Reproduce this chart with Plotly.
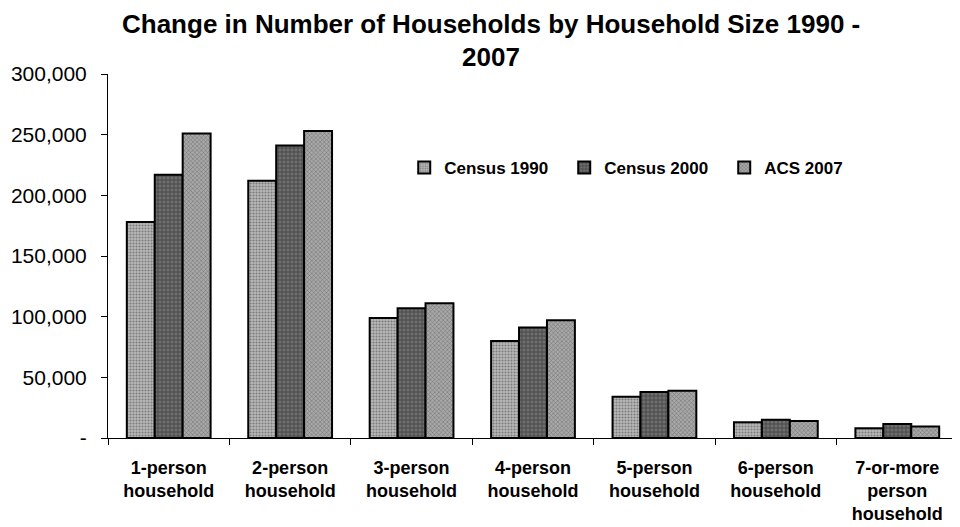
import plotly.graph_objects as go

categories = ["1-person<br>household", "2-person<br>household", "3-person<br>household",
              "4-person<br>household", "5-person<br>household", "6-person<br>household",
              "7-or-more<br>person<br>household"]
census_1990 = [178000, 212000, 99000, 80000, 34000, 13000, 8000]
census_2000 = [217000, 241000, 107000, 91000, 38000, 15000, 11500]
acs_2007 = [251000, 253000, 111000, 97000, 39000, 14000, 9500]
series_names = ["Census 1990", "Census 2000", "ACS 2007"]
tick_vals = [0, 50000, 100000, 150000, 200000, 250000, 300000]
tick_text = ["-", "50,000", "100,000", "150,000", "200,000", "250,000", "300,000"]
title_lines = ["Change in Number of Households by Household Size 1990 -", "2007"]

styles = [
    dict(bg="#b8b8b8", fg="#404040", shape=".", size=3, sol=0.4),
    dict(bg="#6e6e6e", fg="#111111", shape="+", size=4, sol=0.35),
    dict(bg="#a8a8a8", fg="#303030", shape="x", size=3, sol=0.3),
]

fig = go.Figure()
for name, vals, st in zip(series_names, [census_1990, census_2000, acs_2007], styles):
    fig.add_trace(go.Bar(
        x=categories, y=vals, name=name,
        marker=dict(color=st["bg"], line=dict(color="black", width=2),
                    pattern=dict(shape=st["shape"], fgcolor=st["fg"], bgcolor=st["bg"],
                                 size=st["size"], solidity=st["sol"], fillmode="overlay")),
    ))

# The page places the figure 8px from the top-left corner, so the figure is 952x519.
W, H = 952, 519
L, T, R, B = 100, 66, 2, 89
PW, PH = W - L - R, H - T - B

font = "Liberation Sans, Arial, sans-serif"
fig.update_layout(
    width=W, height=H,
    paper_bgcolor="white", plot_bgcolor="white",
    margin=dict(l=L, r=R, t=T, b=B, autoexpand=False),
    barmode="group", bargap=0.31, bargroupgap=0,
    font=dict(family=font, size=18, color="black"),
    legend=dict(orientation="h", x=0.3485, y=0.742, xanchor="left", yanchor="middle",
                font=dict(size=17, family=font, color="black", weight="bold"),
                bgcolor="rgba(0,0,0,0)", itemwidth=30, entrywidth=115, entrywidthmode="pixels"),
    showlegend=True,
)
for txt, ypx in zip(title_lines, [16, 49]):
    fig.add_annotation(text="<b>%s</b>" % txt, xref="paper", yref="paper",
                       x=(483 - L) / PW, y=(T + PH - ypx) / PH, xanchor="center", yanchor="middle",
                       showarrow=False, font=dict(size=26, family=font, color="black"))

fig.update_yaxes(range=[0, 300000], tickvals=tick_vals, ticktext=tick_text,
                 showgrid=False, showline=True, linecolor="black", linewidth=1,
                 ticks="outside", ticklen=6, tickcolor="black", automargin=False,
                 ticklabelstandoff=10,
                 tickfont=dict(size=21, family=font), zeroline=False)
fig.update_xaxes(showgrid=False, showline=True, linecolor="black", linewidth=1,
                 ticks="outside", tickson="boundaries", ticklen=6, tickcolor="black",
                 automargin=False, ticklabelstandoff=13,
                 tickfont=dict(size=18, family=font, weight="bold"))

fig.write_html("out.html")
